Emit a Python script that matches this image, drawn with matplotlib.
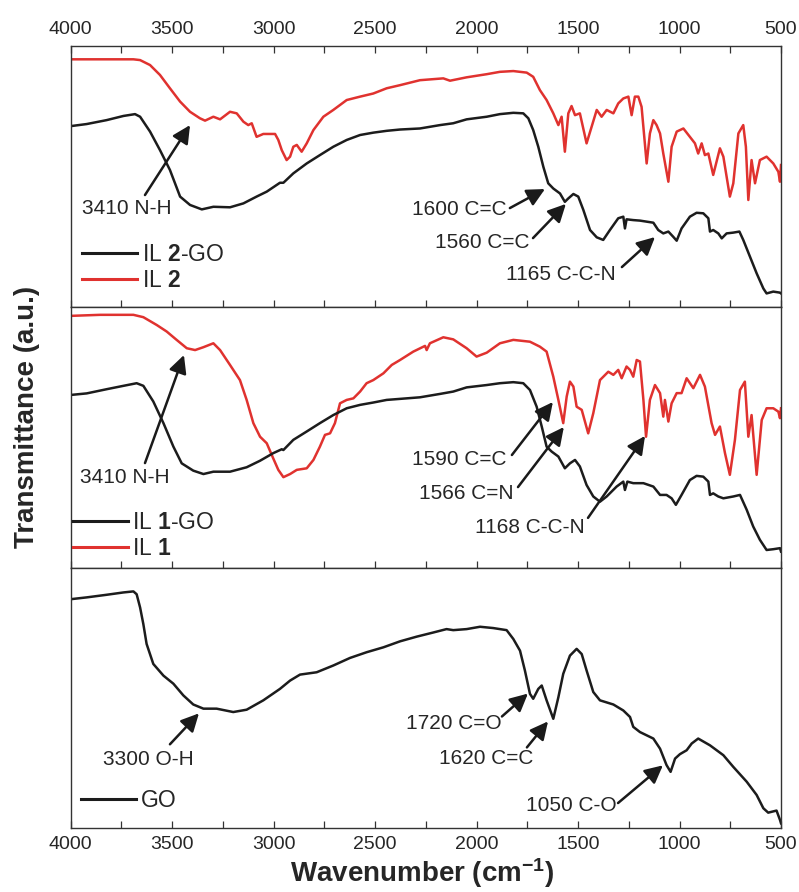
import matplotlib
matplotlib.use('Agg')
import matplotlib.pyplot as plt
from matplotlib.ticker import MultipleLocator
from matplotlib.lines import Line2D

plt.rcParams['font.family'] = ['Liberation Sans', 'DejaVu Sans']
plt.rcParams['mathtext.fontset'] = 'custom'
plt.rcParams['mathtext.rm'] = 'Liberation Sans'
plt.rcParams['mathtext.bf'] = 'Liberation Sans:bold'
plt.rcParams['mathtext.it'] = 'Liberation Sans:italic'

# ---------------- data (wavenumber cm-1, transmittance a.u.) ----------------
il2go_wn = [4000, 3921, 3823, 3740, 3683, 3658, 3609, 3560, 3511, 3461, 3412, 3354, 3297, 3215, 3149, 3084,
            3034, 2969, 2952, 2903, 2837, 2772, 2706, 2640, 2574, 2509, 2443, 2377, 2279, 2180, 2115, 2049,
            1950, 1885, 1819, 1770, 1745, 1721, 1696, 1671, 1647, 1622, 1589, 1565, 1548, 1523, 1499, 1474,
            1441, 1408, 1376, 1343, 1302, 1277, 1269, 1261, 1228, 1195, 1162, 1129, 1105, 1080, 1055, 1031,
            1014, 990, 949, 916, 883, 858, 850, 834, 809, 792, 768, 735, 705, 686, 653, 620, 587, 571, 538,
            505, 500]
il2go_t = [69.3, 70.1, 71.6, 73.2, 73.9, 72.9, 67.2, 60.1, 52.5, 42.3, 39.1, 37.4, 38.4, 38.2, 39.7, 42.3,
           44.2, 47.6, 47.6, 51.2, 55.0, 58.2, 61.4, 64.0, 65.9, 66.8, 67.5, 68.0, 68.4, 69.7, 70.4, 71.9,
           72.9, 73.9, 74.4, 74.2, 72.3, 67.8, 61.4, 53.7, 47.4, 45.4, 43.5, 40.3, 41.6, 43.3, 42.3, 37.2,
           29.5, 26.7, 25.7, 29.5, 34.0, 34.6, 30.1, 33.6, 33.3, 33.1, 32.7, 32.3, 29.5, 28.2, 28.9, 26.9,
           25.4, 30.1, 34.6, 36.1, 35.9, 34.0, 28.9, 29.5, 28.2, 26.3, 28.2, 28.5, 28.9, 25.7, 19.3, 12.9,
           7.1, 5.2, 5.9, 5.5, 5.2]

il2_wn = [4000, 3691, 3658, 3609, 3560, 3511, 3461, 3412, 3363, 3338, 3297, 3264, 3215, 3182, 3149, 3125,
          3108, 3084, 3051, 2993, 2977, 2960, 2936, 2919, 2903, 2886, 2862, 2837, 2804, 2755, 2706, 2640,
          2574, 2509, 2443, 2377, 2279, 2164, 2131, 2049, 1950, 1885, 1819, 1753, 1721, 1688, 1655, 1622,
          1597, 1581, 1565, 1548, 1532, 1515, 1491, 1458, 1433, 1408, 1384, 1359, 1326, 1302, 1277, 1252,
          1236, 1220, 1203, 1187, 1162, 1146, 1129, 1113, 1096, 1080, 1055, 1039, 1014, 981, 949, 924, 908,
          891, 875, 858, 834, 801, 784, 752, 735, 710, 686, 673, 661, 645, 628, 604, 571, 538, 513, 505, 500]
il2_t = [94.9, 94.9, 94.6, 92.7, 88.9, 83.8, 78.7, 74.8, 72.3, 71.4, 72.9, 71.9, 74.8, 74.2, 71.0, 69.7,
         70.4, 65.2, 66.3, 66.3, 64.0, 60.1, 56.3, 57.6, 61.4, 62.1, 59.5, 62.7, 67.8, 72.9, 75.5, 79.3,
         80.6, 81.8, 83.8, 85.0, 86.9, 87.6, 86.7, 88.0, 89.2, 90.1, 90.4, 89.8, 88.2, 83.1, 79.3, 74.2,
         69.7, 72.9, 59.5, 74.2, 77.0, 73.5, 74.2, 62.7, 69.1, 75.5, 72.9, 75.5, 74.2, 78.0, 79.9, 80.6,
         73.5, 80.6, 80.6, 76.7, 55.0, 66.5, 71.6, 69.7, 66.5, 58.8, 48.0, 61.4, 67.2, 68.4, 65.2, 62.7, 58.8,
         62.7, 58.2, 58.8, 50.6, 60.8, 57.6, 42.3, 47.4, 66.5, 69.7, 61.4, 41.0, 56.3, 47.4, 56.3, 57.6, 55.0,
         51.8, 48.0, 54.4]

il1go_wn = [4000, 3921, 3823, 3740, 3675, 3642, 3593, 3543, 3494, 3453, 3396, 3346, 3297, 3215, 3133, 3067,
            3002, 2960, 2952, 2903, 2837, 2772, 2706, 2640, 2574, 2509, 2443, 2377, 2279, 2180, 2115, 2049,
            1950, 1885, 1819, 1770, 1737, 1704, 1679, 1655, 1630, 1597, 1565, 1540, 1515, 1491, 1458, 1425,
            1392, 1359, 1310, 1277, 1269, 1257, 1228, 1178, 1129, 1096, 1064, 1039, 1018, 990, 949, 916, 883,
            858, 850, 834, 809, 784, 735, 702, 669, 637, 604, 571, 538, 505, 500]
il1go_t = [66.3, 66.9, 68.5, 69.8, 70.8, 69.8, 63.8, 55.5, 46.5, 40.1, 37.3, 36.0, 36.9, 36.9, 38.6, 41.1,
           44.0, 45.5, 45.2, 49.1, 52.3, 55.5, 58.6, 61.2, 62.5, 63.4, 64.4, 64.8, 65.4, 66.7, 67.6, 69.2,
           70.1, 70.8, 71.2, 70.8, 68.2, 61.8, 54.2, 46.5, 44.6, 42.7, 38.2, 40.1, 41.4, 38.9, 31.8, 27.4,
           25.4, 27.4, 31.2, 33.1, 29.9, 33.1, 32.5, 32.5, 31.2, 28.0, 28.0, 26.7, 24.2, 28.0, 33.7, 35.3, 35.0,
           33.1, 28.0, 28.6, 27.4, 26.7, 27.4, 28.0, 22.3, 15.9, 10.8, 6.9, 7.2, 7.6, 6.3]

il1_wn = [4000, 3855, 3691, 3642, 3576, 3527, 3478, 3428, 3387, 3346, 3297, 3264, 3215, 3166, 3133, 3100,
          3067, 3034, 3002, 2977, 2952, 2919, 2886, 2837, 2804, 2772, 2747, 2722, 2698, 2673, 2640, 2607,
          2574, 2542, 2509, 2459, 2418, 2377, 2312, 2254, 2246, 2230, 2164, 2115, 2049, 2000, 1950, 1885,
          1819, 1737, 1688, 1655, 1622, 1597, 1573, 1556, 1540, 1523, 1507, 1482, 1450, 1425, 1392, 1351,
          1326, 1302, 1285, 1261, 1244, 1228, 1211, 1195, 1178, 1165, 1146, 1121, 1096, 1080, 1072, 1055,
          1039, 1014, 990, 965, 932, 899, 875, 842, 825, 801, 776, 752, 727, 702, 678, 661, 645, 620, 595,
          571, 538, 513, 505, 500]
il1_t = [96.6, 97.0, 97.0, 96.1, 93.1, 90.6, 87.4, 84.2, 83.5, 84.6, 86.1, 83.5, 77.8, 72.0, 64.4, 55.5,
         50.3, 47.8, 42.0, 37.6, 34.8, 36.0, 37.6, 38.2, 41.4, 46.5, 51.0, 51.6, 55.5, 63.1, 64.4, 65.0,
         67.6, 70.8, 72.0, 74.6, 77.8, 79.7, 82.9, 85.1, 83.5, 86.1, 88.4, 87.6, 84.2, 81.0, 82.5, 86.1,
         87.4, 86.7, 84.8, 82.9, 73.3, 64.4, 55.5, 65.7, 71.4, 69.5, 61.8, 60.6, 51.6, 59.3, 72.0, 75.2,
         74.0, 75.9, 72.7, 77.2, 75.9, 73.3, 79.7, 79.1, 64.4, 50.3, 64.4, 70.1, 67.0, 58.0, 64.4, 56.1,
         63.1, 67.0, 67.0, 72.7, 68.9, 74.0, 69.5, 55.5, 51.0, 54.2, 44.0, 35.7, 49.1, 68.2, 71.4, 50.3,
         58.6, 35.7, 56.7, 61.2, 61.2, 59.9, 57.4, 61.2]

go_wn = [4000, 3921, 3823, 3740, 3691, 3675, 3658, 3642, 3626, 3593, 3543, 3494, 3445, 3396, 3346, 3281,
         3199, 3133, 3051, 2969, 2919, 2870, 2788, 2706, 2624, 2542, 2459, 2377, 2295, 2213, 2148, 2115,
         2049, 1983, 1918, 1852, 1819, 1786, 1762, 1737, 1721, 1696, 1679, 1655, 1622, 1597, 1573, 1540,
         1507, 1482, 1458, 1425, 1392, 1326, 1277, 1244, 1228, 1195, 1129, 1096, 1064, 1044, 1022, 998,
         965, 940, 908, 850, 784, 735, 669, 620, 587, 563, 522, 505, 500]
go_t = [88.0, 88.7, 89.7, 90.6, 91.0, 89.9, 84.8, 78.4, 70.8, 63.1, 58.6, 55.5, 51.0, 47.5, 45.9, 45.9,
        44.6, 45.5, 49.1, 53.5, 56.7, 59.0, 59.9, 62.5, 65.4, 67.6, 69.5, 71.8, 73.6, 75.2, 76.5, 76.1,
        76.5, 77.4, 76.9, 76.1, 72.7, 68.2, 60.6, 51.6, 49.7, 53.5, 54.8, 49.1, 42.0, 50.3, 59.3, 66.3,
        68.9, 66.9, 60.6, 52.3, 49.1, 47.5, 45.2, 42.7, 38.9, 36.9, 34.4, 30.5, 24.2, 21.6, 26.7, 28.4,
        29.9, 32.5, 34.4, 31.8, 28.0, 23.5, 17.8, 12.7, 7.6, 5.9, 6.7, 3.1, 1.8]

xticks = [4000, 3500, 3000, 2500, 2000, 1500, 1000, 500]

# annotations: (label, text_wn, text_y, ha, tail_wn, tail_y, tip_wn, tip_y)
ann1 = [("3410 N-H", 3944, 37.9, 'left', 3634, 42.9, 3412, 69.7),
        ("1600 C=C", 1850, 37.2, 'right', 1836, 37.9, 1663, 45.2),
        ("1560 C=C", 1737, 24.9, 'right', 1722, 26.4, 1560, 39.5),
        ("1165 C-C-N", 1313, 12.6, 'right', 1284, 15.3, 1121, 26.8)]
ann2 = [("3410 N-H", 3954, 34.5, 'left', 3634, 40.2, 3442, 81.6),
        ("1590 C=C", 1855, 41.4, 'right', 1826, 43.3, 1624, 63.6),
        ("1566 C=N", 1816, 28.7, 'right', 1796, 31.0, 1570, 54.0),
        ("1168 C-C-N", 1466, 15.7, 'right', 1451, 19.2, 1170, 50.6)]
ann3 = [("3300 O-H", 3841, 26.4, 'left', 3511, 32.2, 3368, 44.1),
        ("1720 C=O", 1875, 40.2, 'right', 1875, 42.9, 1747, 51.7),
        ("1620 C=C", 1722, 26.8, 'right', 1752, 31.0, 1648, 41.0),
        ("1050 C-O", 1308, 8.8, 'right', 1303, 9.6, 1082, 24.1)]

RED = '#e0322f'
BLK = '#1c1c1c'
LW = 1.8

W, H = 799, 892
fig = plt.figure(figsize=(W / 100, H / 100), dpi=100)

left = 70.7 / W
width = (781 - 70.7) / W
def rect(top_px, bot_px):
    return [left, 1 - bot_px / H, width, (bot_px - top_px) / H]

ax1 = fig.add_axes(rect(46, 307))
ax2 = fig.add_axes(rect(307, 568))
ax3 = fig.add_axes(rect(568, 828))

for ax in (ax1, ax2, ax3):
    ax.set_xlim(4000, 500)
    ax.set_ylim(0, 100)
    ax.set_yticks([])
    ax.set_xticks(xticks)
    ax.xaxis.set_minor_locator(MultipleLocator(250))
    for s in ax.spines.values():
        s.set_linewidth(1.0)
        s.set_color('#333333')
    ax.tick_params(axis='x', which='both', direction='in', length=5, width=0.9,
                   color='#333333', labelsize=14, labelcolor='#262626', pad=6)

ax1.tick_params(axis='x', which='both', top=True, bottom=True, labeltop=True, labelbottom=False)
ax2.tick_params(axis='x', which='both', top=False, bottom=True, labeltop=False, labelbottom=False)
ax3.tick_params(axis='x', which='both', top=False, bottom=True, labeltop=False, labelbottom=True)

ax1.plot(il2_wn, il2_t, color=RED, lw=LW)
ax1.plot(il2go_wn, il2go_t, color=BLK, lw=LW)
ax2.plot(il1_wn, il1_t, color=RED, lw=LW)
ax2.plot(il1go_wn, il1go_t, color=BLK, lw=LW)
ax3.plot(go_wn, go_t, color=BLK, lw=LW)

def annotate(ax, items):
    for lab, tx, ty, ha, ax_, ay, bx, by in items:
        ax.text(tx, ty, lab, ha=ha, va='center', fontsize=15, color='#262626')
        ax.annotate('', xy=(bx, by), xytext=(ax_, ay),
                    arrowprops=dict(arrowstyle='-|>,head_length=0.6,head_width=0.3',
                                    mutation_scale=18, lw=1.8, color='#1a1a1a',
                                    shrinkA=0, shrinkB=0))

annotate(ax1, ann1)
annotate(ax2, ann2)
annotate(ax3, ann3)

def legend(ax, entries, anchor):
    handles = [Line2D([], [], color=c, lw=2.2) for c, _ in entries]
    labels = [l for _, l in entries]
    lg = ax.legend(handles, labels, loc='lower left', bbox_to_anchor=anchor, frameon=False,
                   fontsize=16.5, handlelength=2.4, handletextpad=0.2, labelspacing=0.15,
                   borderpad=0, borderaxespad=0)
    for t in lg.get_texts():
        t.set_color('#262626')

legend(ax1, [(BLK, r'IL $\mathbf{2}$-GO'), (RED, r'IL $\mathbf{2}$')], (0.016, 0.057))
legend(ax2, [(BLK, r'IL $\mathbf{1}$-GO'), (RED, r'IL $\mathbf{1}$')], (0.003, 0.03))
legend(ax3, [(BLK, 'GO')], (0.0145, 0.061))

fig.text(422 / W, 1 - 882 / H, r'Wavenumber (cm$^{\mathbf{-1}}$)', ha='center', va='baseline',
         fontsize=20, fontweight='bold', color='#262626')
fig.text(27 / W, 1 - 417 / H, 'Transmittance (a.u.)', ha='center', va='center', rotation=90,
         fontsize=20, fontweight='bold', color='#262626')

fig.savefig('out.png', dpi=100)
